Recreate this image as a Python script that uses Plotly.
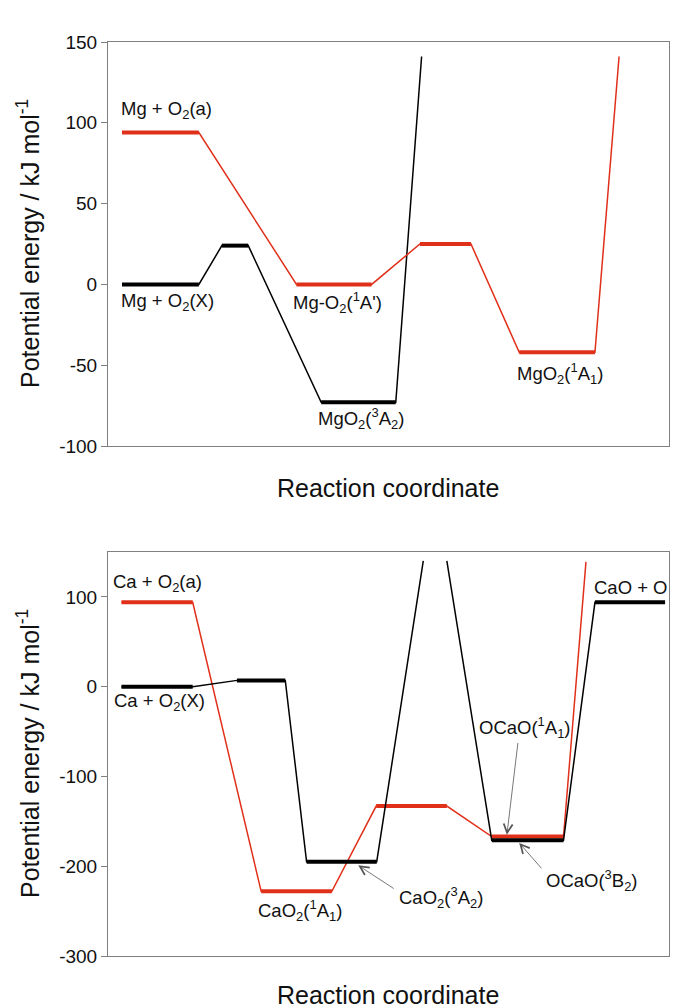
import plotly.graph_objects as go

# ---------------- data (reaction coordinate 0..100, energy kJ/mol) ----------------
# Top panel: Mg + O2
mg_trip_x = [2.5, 16.2, 20.3, 25.0, 38.0, 51.3, 55.9]
mg_trip_E = [0, 0, 24, 24, -73, -73, 141]
mg_trip_lv_x0 = [2.5, 20.3, 38.0]
mg_trip_lv_x1 = [16.2, 25.0, 51.3]
mg_trip_lv_E = [0, 24, -73]

mg_sing_x = [2.5, 16.2, 33.6, 47.0, 55.6, 64.7, 73.3, 86.8, 91.1]
mg_sing_E = [94, 94, 0, 0, 25, 25, -42, -42, 141]
mg_sing_lv_x0 = [2.5, 33.6, 55.6, 73.3]
mg_sing_lv_x1 = [16.2, 47.0, 64.7, 86.8]
mg_sing_lv_E = [94, 0, 25, -42]

# Bottom panel: Ca + O2
ca_trip_x = [2.4, 15.1, 23.0, 31.6, 35.4, 47.9, 56.2, None, 60.4, 68.4, 81.2, 86.8, 99.3]
ca_trip_E = [0, 0, 7, 7, -195, -195, 140, None, 140, -171, -171, 94, 94]
ca_trip_lv_x0 = [2.4, 23.0, 35.4, 68.4, 86.8]
ca_trip_lv_x1 = [15.1, 31.6, 47.9, 81.2, 99.3]
ca_trip_lv_E = [0, 7, -195, -171, 94]

ca_sing_x = [2.4, 15.1, 27.3, 39.9, 47.8, 60.4, 68.4, 81.2, 85.2]
ca_sing_E = [94, 94, -228, -228, -133, -133, -167, -167, 139]
ca_sing_lv_x0 = [2.4, 27.3, 47.8, 68.4]
ca_sing_lv_x1 = [15.1, 39.9, 60.4, 81.2]
ca_sing_lv_E = [94, -228, -133, -167]

# tick labels
mg_ticks = [-100, -50, 0, 50, 100, 150]
ca_ticks = [-300, -200, -100, 0, 100]

# labels: (text, x, y)
mg_labels = [
    ("Mg + O<sub>2</sub>(a)", 1.96, 108),
    ("Mg + O<sub>2</sub>(X)", 1.96, -11),
    ("Mg-O<sub>2</sub>(<sup>1</sup>A')", 32.6, -11.5),
    ("MgO<sub>2</sub>(<sup>3</sup>A<sub>2</sub>)", 37.1, -83),
    ("MgO<sub>2</sub>(<sup>1</sup>A<sub>1</sub>)", 72.5, -55),
]
ca_labels = [
    ("Ca + O<sub>2</sub>(a)", 0.5, 115),
    ("Ca + O<sub>2</sub>(X)", 0.7, -17),
    ("CaO<sub>2</sub>(<sup>1</sup>A<sub>1</sub>)", 26.4, -249),
    ("CaO<sub>2</sub>(<sup>3</sup>A<sub>2</sub>)", 51.5, -235),
    ("OCaO(<sup>1</sup>A<sub>1</sub>)", 65.8, -46),
    ("OCaO(<sup>3</sup>B<sub>2</sub>)", 77.7, -216),
    ("CaO + O", 86.3, 110),
]
# arrows: (tail x, tail y, head x, head y)
ca_arrows = [
    (73.1, -61, 71.1, -165),
    (77.5, -204, 73.3, -174),
    (51.2, -226, 44.6, -199),
]

RED = "#e0301a"
BLACK = "#000000"
FONT = "Arial, Liberation Sans, Helvetica, sans-serif"


def levels(x0, x1, E):
    xs, ys = [], []
    for a, b, e in zip(x0, x1, E):
        xs += [a, b, None]
        ys += [e, e, None]
    return xs, ys


fig = go.Figure()


def add_series(px, pE, lx0, lx1, lE, color, xa, ya):
    fig.add_trace(go.Scatter(x=px, y=pE, mode="lines", line=dict(color=color, width=1.5),
                             xaxis=xa, yaxis=ya, hoverinfo="skip", showlegend=False))
    lx, ly = levels(lx0, lx1, lE)
    fig.add_trace(go.Scatter(x=lx, y=ly, mode="lines", line=dict(color=color, width=4),
                             xaxis=xa, yaxis=ya, hoverinfo="skip", showlegend=False))


add_series(mg_trip_x, mg_trip_E, mg_trip_lv_x0, mg_trip_lv_x1, mg_trip_lv_E, BLACK, "x", "y")
add_series(mg_sing_x, mg_sing_E, mg_sing_lv_x0, mg_sing_lv_x1, mg_sing_lv_E, RED, "x", "y")
add_series(ca_sing_x, ca_sing_E, ca_sing_lv_x0, ca_sing_lv_x1, ca_sing_lv_E, RED, "x2", "y2")
add_series(ca_trip_x, ca_trip_E, ca_trip_lv_x0, ca_trip_lv_x1, ca_trip_lv_E, BLACK, "x2", "y2")

LBL = 18.5
annotations = []
for t, x, y in mg_labels:
    annotations.append(dict(text=t, x=x, y=y, xref="x", yref="y", xanchor="left", yanchor="middle",
                            showarrow=False, font=dict(family=FONT, size=LBL, color="#111")))
for t, x, y in ca_labels:
    annotations.append(dict(text=t, x=x, y=y, xref="x2", yref="y2", xanchor="left", yanchor="middle",
                            showarrow=False, font=dict(family=FONT, size=LBL, color="#111")))
for tx, ty, hx, hy in ca_arrows:
    annotations.append(dict(text="", x=hx, y=hy, ax=tx, ay=ty, xref="x2", yref="y2",
                            axref="x2", ayref="y2", showarrow=True, arrowhead=5,
                            arrowsize=2.2, arrowwidth=0.8, arrowcolor="#555"))

W, H = 693, 1008
for yc in [488, 995]:
    annotations.append(dict(text="Reaction coordinate", x=388.5 / W, y=1 - yc / H, xref="paper",
                            yref="paper", xanchor="center", yanchor="middle", showarrow=False,
                            font=dict(family=FONT, size=25, color="#111")))
for yc in [244, 754]:
    annotations.append(dict(text="Potential energy / kJ mol<sup>-1</sup>", x=28 / W, y=1 - yc / H,
                            xref="paper", yref="paper", xanchor="center", yanchor="middle",
                            textangle=-90, showarrow=False,
                            font=dict(family=FONT, size=25, color="#111")))

xdom = [108 / W, 669 / W]
axis_common = dict(showline=True, mirror=True, linecolor="#808080", linewidth=1,
                   showgrid=False, zeroline=False)
tickfont = dict(family=FONT, size=19, color="#111")
fig.update_layout(
    width=W, height=H, margin=dict(l=0, r=0, t=0, b=0, autoexpand=False),
    paper_bgcolor="white", plot_bgcolor="white",
    xaxis=dict(domain=xdom, range=[0, 100], showticklabels=False, ticks="", **axis_common),
    yaxis=dict(domain=[1 - 446 / H, 1 - 42 / H], range=[-100, 150],
               tickmode="array", tickvals=mg_ticks, ticktext=[str(v) for v in mg_ticks],
               ticks="outside", ticklen=6, tickcolor="#808080", tickfont=tickfont, **axis_common),
    xaxis2=dict(domain=xdom, range=[0, 100], anchor="y2", showticklabels=False, ticks="",
                **axis_common),
    yaxis2=dict(domain=[1 - 956 / H, 1 - 552 / H], range=[-300, 150], anchor="x2",
                tickmode="array", tickvals=ca_ticks, ticktext=[str(v) for v in ca_ticks],
                ticks="outside", ticklen=6, tickcolor="#808080", tickfont=tickfont, **axis_common),
    annotations=annotations,
)

fig.write_html("out.html", config={"displayModeBar": False},
               post_script="document.body.style.margin='0';document.body.style.padding='0';"
                           "document.documentElement.style.overflow='hidden';")
